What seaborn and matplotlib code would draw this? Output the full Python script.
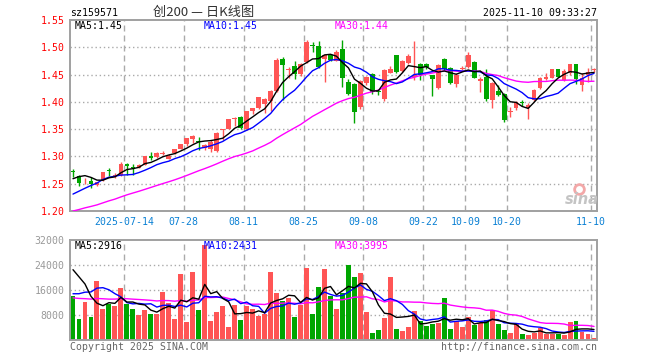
import numpy as np
import pandas as pd
import matplotlib
matplotlib.use("Agg")
import matplotlib.pyplot as plt
import seaborn as sns

# ---------------- data ----------------
opens = [1.273, 1.265, 1.256, 1.255, 1.248, 1.256, 1.275, 1.265, 1.266, 1.287,
         1.280, 1.279, 1.285, 1.301, 1.299, 1.305, 1.296, 1.306, 1.314, 1.322,
         1.332, 1.329, 1.316, 1.313, 1.310, 1.349, 1.351, 1.369, 1.373, 1.350,
         1.383, 1.388, 1.396, 1.401, 1.420, 1.478, 1.459, 1.465, 1.451, 1.473,
         1.503, 1.503, 1.478, 1.486, 1.475, 1.496, 1.437, 1.432, 1.390, 1.434,
         1.451, 1.420, 1.405, 1.453, 1.485, 1.457, 1.471, 1.446, 1.470, 1.470,
         1.449, 1.426, 1.479, 1.462, 1.432, 1.460, 1.463, 1.473, 1.439, 1.446,
         1.403, 1.420, 1.415, 1.381, 1.388, 1.399, 1.389, 1.403, 1.425, 1.441,
         1.444, 1.460, 1.440, 1.452, 1.469, 1.430, 1.449, 1.459]
highs = [1.277, 1.266, 1.261, 1.263, 1.254, 1.272, 1.278, 1.270, 1.290, 1.288,
         1.286, 1.287, 1.301, 1.309, 1.308, 1.310, 1.304, 1.313, 1.323, 1.334,
         1.339, 1.336, 1.322, 1.330, 1.345, 1.351, 1.369, 1.373, 1.374, 1.384,
         1.389, 1.409, 1.407, 1.421, 1.480, 1.482, 1.463, 1.474, 1.471, 1.513,
         1.510, 1.511, 1.487, 1.487, 1.495, 1.514, 1.442, 1.434, 1.440, 1.447,
         1.452, 1.424, 1.460, 1.466, 1.486, 1.476, 1.488, 1.511, 1.472, 1.472,
         1.450, 1.470, 1.481, 1.463, 1.452, 1.465, 1.492, 1.474, 1.445, 1.461,
         1.436, 1.431, 1.416, 1.391, 1.401, 1.403, 1.398, 1.423, 1.446, 1.453,
         1.461, 1.461, 1.461, 1.470, 1.470, 1.452, 1.462, 1.462]
lows = [1.262, 1.245, 1.249, 1.242, 1.245, 1.255, 1.265, 1.261, 1.264, 1.266,
        1.266, 1.278, 1.284, 1.293, 1.298, 1.302, 1.295, 1.305, 1.313, 1.320,
        1.324, 1.312, 1.311, 1.308, 1.308, 1.331, 1.350, 1.356, 1.350, 1.348,
        1.378, 1.386, 1.380, 1.383, 1.418, 1.404, 1.443, 1.442, 1.447, 1.472,
        1.491, 1.462, 1.436, 1.474, 1.474, 1.428, 1.413, 1.362, 1.386, 1.430,
        1.415, 1.412, 1.402, 1.452, 1.452, 1.455, 1.470, 1.440, 1.440, 1.460,
        1.410, 1.424, 1.458, 1.432, 1.427, 1.458, 1.462, 1.443, 1.418, 1.401,
        1.388, 1.410, 1.364, 1.373, 1.385, 1.392, 1.369, 1.401, 1.423, 1.440,
        1.443, 1.445, 1.439, 1.450, 1.432, 1.420, 1.437, 1.455]
closes = [1.272, 1.251, 1.257, 1.250, 1.253, 1.271, 1.273, 1.266, 1.287, 1.283,
          1.279, 1.285, 1.300, 1.298, 1.307, 1.307, 1.301, 1.313, 1.322, 1.333,
          1.338, 1.327, 1.321, 1.326, 1.343, 1.350, 1.368, 1.371, 1.352, 1.383,
          1.388, 1.408, 1.405, 1.419, 1.477, 1.468, 1.461, 1.451, 1.470, 1.509,
          1.502, 1.464, 1.485, 1.476, 1.491, 1.444, 1.415, 1.382, 1.438, 1.446,
          1.418, 1.418, 1.459, 1.460, 1.454, 1.475, 1.484, 1.450, 1.450, 1.464,
          1.441, 1.468, 1.460, 1.434, 1.450, 1.462, 1.486, 1.444, 1.441, 1.406,
          1.434, 1.412, 1.366, 1.383, 1.400, 1.397, 1.394, 1.422, 1.444, 1.446,
          1.460, 1.446, 1.456, 1.469, 1.441, 1.443, 1.455, 1.461]
volumes = [14000, 6600, 12050, 7250, 19000, 10000, 11400, 11000, 16750, 11600,
           10000, 8100, 9700, 8400, 8400, 15500, 11950, 6800, 21000, 5900,
           21900, 9700, 30500, 6200, 9100, 11000, 4270, 11300, 6500, 11000,
           10000, 7800, 8400, 21900, 15150, 12600, 13550, 7500, 11300, 23150,
           8400, 17050, 22800, 14200, 9830, 14900, 24100, 20300, 21560, 8880,
           2220, 3170, 6975, 20300, 3490, 2850, 4120, 9190, 6020, 4440,
           5070, 5390, 13300, 3490, 6020, 4120, 7290, 4760, 5390, 6340,
           9510, 5070, 3170, 2220, 5070, 1900, 1585, 2220, 3800, 1900,
           1900, 1900, 1585, 5700, 6020, 2540, 1900, 634]
# closes / volumes before the visible window (estimated from where the MA lines start)
pre_closes = [1.170, 1.165, 1.172, 1.168, 1.160, 1.163, 1.170, 1.166, 1.169,
              1.180, 1.188, 1.195, 1.192, 1.198, 1.203, 1.200, 1.207, 1.205, 1.210, 1.209,
              1.198, 1.203, 1.200, 1.208, 1.205,
              1.232, 1.248, 1.266, 1.278]
pre_volumes = [12000, 14500, 11000, 13500, 12500, 15000, 10500, 13000, 12000, 14000,
               11500, 13500, 12500, 14500, 11000, 13000, 12500, 14000, 12500, 13500,
               6500, 7200, 6400, 6800, 8600,
               18000, 23500, 27000, 30000]
tick_idx = [9, 19, 29, 39, 49, 59, 66, 73, 87]
tick_labels = ["2025-07-14", "07-28", "08-11", "08-25", "09-08", "09-22",
               "10-09", "10-20", "11-10"]
price_ticks = [1.20, 1.25, 1.30, 1.35, 1.40, 1.45, 1.50, 1.55]
vol_ticks = [8000, 16000, 24000, 32000]

# ---------------- prep ----------------
n = len(closes)
df = pd.DataFrame({"x": np.arange(n), "open": opens, "high": highs, "low": lows,
                   "close": closes, "vol": volumes})
allc = pd.Series(pre_closes + closes)
allv = pd.Series(pre_volumes + volumes)
for w in (5, 10, 30):
    df[f"ma{w}"] = allc.rolling(w).mean().iloc[len(pre_closes):].values
    df[f"vma{w}"] = allv.rolling(w).mean().iloc[len(pre_volumes):].values

UP, DOWN = "#ff5555", "#00a600"
up = df["close"] >= df["open"]
colors = np.where(up, UP, DOWN)

sns.set_theme(style="white")
plt.rcParams["font.family"] = ["DejaVu Sans Mono", "Noto Sans CJK SC"]

W, H = 660, 360
fig = plt.figure(figsize=(6.6, 3.6), dpi=100)
fig.patch.set_facecolor("white")
L, R = 70, 597
ax1 = fig.add_axes([L / W, 1 - 211 / H, (R - L) / W, 191 / H])
ax2 = fig.add_axes([L / W, 1 - 340 / H, (R - L) / W, 100 / H])

GRID = "#aaaaaa"
grid_x = [i - 0.5 for i in tick_idx]
for ax in (ax1, ax2):
    ax.set_facecolor("white")
    for s in ax.spines.values():
        s.set_color("#a0a0a0")
        s.set_linewidth(1.4)
    for gx in grid_x:
        ax.axvline(gx, color=GRID, lw=1.0, ls=(0, (4.3, 2.9)), zorder=0)
    ax.set_xlim(-0.5, n - 0.5)
    ax.tick_params(length=0)

# ---- price panel ----
for yv in price_ticks[1:-1]:
    ax1.axhline(yv, color=GRID, lw=1.0, ls=(0, (1, 2)), zorder=0)
body_lo = np.minimum(df["open"], df["close"])
body_h = np.maximum(np.abs(df["close"] - df["open"]), 0.0013)
ax1.vlines(df["x"], df["low"], df["high"], colors=colors, lw=1.0, zorder=2)
ax1.bar(df["x"], body_h, bottom=body_lo, width=0.78, color=colors, linewidth=0, zorder=3)
sns.lineplot(data=df, x="x", y="ma30", ax=ax1, color="#ff00ff", lw=1.0, zorder=4)
sns.lineplot(data=df, x="x", y="ma10", ax=ax1, color="#0000ff", lw=1.0, zorder=5)
sns.lineplot(data=df, x="x", y="ma5", ax=ax1, color="black", lw=1.0, zorder=6)
ax1.set_ylim(1.20, 1.55)
ax1.set_yticks(price_ticks)
ax1.set_yticklabels([f"{v:.2f}" for v in price_ticks], color="#ff0000", fontsize=7.1)
ax1.set_xticks(grid_x)
ax1.set_xticklabels(tick_labels, color="#0a80d4", fontsize=7.1)
ax1.tick_params(axis="y", pad=4)
ax1.tick_params(axis="x", pad=4)
ax1.set_xlabel("")
ax1.set_ylabel("")

# ---- volume panel ----
for yv in vol_ticks[:-1]:
    ax2.axhline(yv, color=GRID, lw=1.0, ls=(0, (1, 2)), zorder=0)
ax2.bar(df["x"], df["vol"], width=0.82, color=colors, linewidth=0, zorder=2)
sns.lineplot(data=df, x="x", y="vma30", ax=ax2, color="#ff00ff", lw=1.0, zorder=4)
sns.lineplot(data=df, x="x", y="vma10", ax=ax2, color="#0000ff", lw=1.0, zorder=5)
sns.lineplot(data=df, x="x", y="vma5", ax=ax2, color="black", lw=1.0, zorder=6)
ax2.set_ylim(0, 32000)
ax2.set_yticks(vol_ticks)
ax2.set_yticklabels([str(v) for v in vol_ticks], color="#999999", fontsize=7.1)
ax2.tick_params(axis="y", pad=4)
ax2.set_xticks(grid_x)
ax2.set_xticklabels([])
ax2.set_xlabel("")
ax2.set_ylabel("")


def ftext(x, y, s, **kw):
    kw.setdefault("fontsize", 7.1)
    kw.setdefault("va", "center")
    fig.text(x / W, 1 - y / H, s, **kw)


ftext(70, 13, "sz159571", color="black")
ftext(204, 12, "创200 — 日K线图", color="#333333", ha="center", fontsize=9.5,
      family=["Noto Sans CJK SC", "DejaVu Sans"])
ftext(597, 13, "2025-11-10 09:33:27", color="black", ha="right")
ftext(75, 26, "MA5:1.45", color="black")
ftext(204, 26, "MA10:1.45", color="#0000ff")
ftext(335, 26, "MA30:1.44", color="#ff00ff")
ftext(75, 246, "MA5:2916", color="black")
ftext(204, 246, "MA10:2431", color="#0000ff")
ftext(335, 246, "MA30:3995", color="#ff00ff")
ftext(70, 347, "Copyright 2025 SINA.COM", color="#666666")
ftext(597, 347, "http://finance.sina.com.cn", color="#666666", ha="right")

# sina watermark
ftext(582, 199, "sina", color="#c4c4c4", ha="center", fontsize=10.5,
      fontweight="bold", style="italic", family=["DejaVu Sans"])
fig.lines.append(plt.Line2D([579 / W], [1 - 189 / H], marker="o", ms=7, mfc="none",
                            mec="#f3a8a8", mew=2.0, transform=fig.transFigure))

fig.savefig("out.png", dpi=100, facecolor="white")
